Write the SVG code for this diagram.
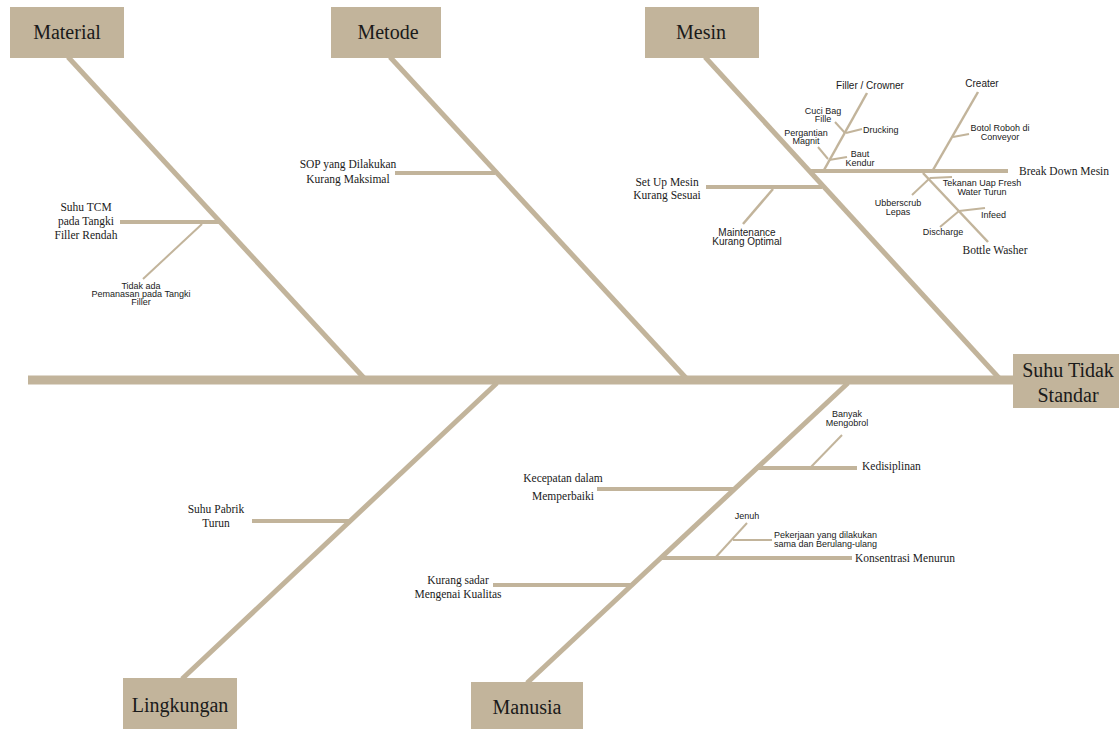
<svg xmlns="http://www.w3.org/2000/svg" width="1119" height="729" viewBox="0 0 1119 729">
<style>
.box{fill:#C2B49B}
.bt{font-family:"Liberation Serif",serif;font-size:20px;fill:#1a1a1a;text-anchor:middle}
.ct{font-family:"Liberation Serif",serif;font-size:11.5px;fill:#1a1a1a}
.st{font-family:"Liberation Sans",sans-serif;font-size:9px;fill:#1a1a1a}
.m{text-anchor:middle}
.e{text-anchor:end}
.bone{stroke:#C2B49B;stroke-width:5;fill:none}
.sub{stroke:#C2B49B;stroke-width:4;fill:none}
.tw{stroke:#C2B49B;stroke-width:2;fill:none}
</style>
<rect width="1119" height="729" fill="#fff"/>
<g id="connectors">
<line class="bone" x1="28" y1="380" x2="1013" y2="380" style="stroke-width:9"/>
<line class="bone" x1="68" y1="57" x2="364" y2="378"/>
<line class="bone" x1="390" y1="57" x2="686" y2="378"/>
<line class="bone" x1="705" y1="57" x2="999" y2="378"/>
<line class="bone" x1="497" y1="383" x2="182" y2="679"/>
<line class="bone" x1="848" y1="383" x2="527" y2="683"/>
<!-- Material -->
<line class="sub" x1="120" y1="222" x2="220" y2="222"/>
<line class="tw" x1="202" y1="224" x2="143" y2="279"/>
<!-- Metode -->
<line class="sub" x1="395" y1="173" x2="495" y2="173"/>
<!-- Mesin -->
<line class="sub" x1="808" y1="171" x2="1008" y2="171"/>
<line class="sub" x1="706" y1="187" x2="822" y2="187"/>
<line class="tw" x1="773" y1="189" x2="743" y2="224" style="stroke-width:2.5"/>
<line class="tw" x1="824" y1="170" x2="867" y2="93" style="stroke-width:2.5"/>
<line class="tw" x1="846" y1="133" x2="862" y2="129"/>
<line class="tw" x1="845" y1="133" x2="835" y2="122"/>
<line class="tw" x1="828" y1="159" x2="818" y2="147"/>
<line class="tw" x1="829" y1="160" x2="847" y2="157"/>
<line class="tw" x1="933" y1="170" x2="978" y2="92" style="stroke-width:2.5"/>
<line class="tw" x1="953" y1="137" x2="969" y2="134"/>
<line class="tw" x1="923" y1="173" x2="988" y2="242" style="stroke-width:2.5"/>
<line class="tw" x1="930" y1="178" x2="952" y2="177"/>
<line class="tw" x1="930" y1="178" x2="912" y2="195"/>
<line class="tw" x1="959" y1="211" x2="985" y2="208"/>
<line class="tw" x1="959" y1="211" x2="940" y2="227"/>
<!-- Lingkungan -->
<line class="sub" x1="252" y1="521" x2="350" y2="521"/>
<!-- Manusia -->
<line class="sub" x1="757" y1="468" x2="857" y2="468"/>
<line class="tw" x1="810" y1="468" x2="842" y2="435"/>
<line class="sub" x1="597" y1="489" x2="735" y2="489"/>
<line class="sub" x1="661" y1="558" x2="852" y2="558"/>
<line class="tw" x1="715" y1="558" x2="747" y2="523"/>
<line class="tw" x1="733" y1="540" x2="772" y2="540"/>
<line class="sub" x1="493" y1="585" x2="631" y2="585"/>
</g>
<g id="head">
<rect class="box" x="1013" y="354" width="106" height="54"/>
<text class="bt" x="1068" y="377">Suhu Tidak</text>
<text class="bt" x="1068" y="402">Standar</text>
</g>
<g id="material">
<rect class="box" x="10" y="7" width="114" height="51"/>
<text class="bt" x="67" y="39">Material</text>
</g>
<g id="metode">
<rect class="box" x="331" y="7" width="110" height="51"/>
<text class="bt" x="388" y="39">Metode</text>
</g>
<g id="mesin">
<rect class="box" x="645" y="7" width="114" height="51"/>
<text class="bt" x="701" y="39">Mesin</text>
</g>
<g id="lingkungan">
<rect class="box" x="123" y="678" width="114" height="51"/>
<text class="bt" x="180" y="712">Lingkungan</text>
</g>
<g id="manusia">
<rect class="box" x="471" y="682" width="112" height="47"/>
<text class="bt" x="527" y="714">Manusia</text>
</g>
<g id="material-causes">
<text class="ct m" x="86" y="211">Suhu TCM</text>
<text class="ct m" x="86" y="225">pada Tangki</text>
<text class="ct m" x="86" y="239">Filler Rendah</text>
<text class="st m" x="141" y="289">Tidak ada</text>
<text class="st m" x="141" y="297">Pemanasan pada Tangki</text>
<text class="st m" x="141" y="305">Filler</text>
</g>
<g id="metode-causes">
<text class="ct m" x="348" y="168">SOP yang Dilakukan</text>
<text class="ct m" x="348" y="183">Kurang Maksimal</text>
</g>
<g id="mesin-causes">
<text class="ct" x="1019" y="175">Break Down Mesin</text>
<text class="ct m" x="667" y="186">Set Up Mesin</text>
<text class="ct m" x="667" y="199">Kurang Sesuai</text>
<text class="st m" x="747" y="236" style="font-size:10px">Maintenance</text>
<text class="st m" x="747" y="245" style="font-size:10px">Kurang Optimal</text>
<text class="st m" x="870" y="89" style="font-size:10px">Filler / Crowner</text>
<text class="st" x="863" y="133">Drucking</text>
<text class="st m" x="823" y="114">Cuci Bag</text>
<text class="st m" x="823" y="122">Fille</text>
<text class="st m" x="806" y="136">Pergantian</text>
<text class="st m" x="806" y="144">Magnit</text>
<text class="st m" x="860" y="157">Baut</text>
<text class="st m" x="860" y="166">Kendur</text>
<text class="st m" x="982" y="87" style="font-size:10px">Creater</text>
<text class="st m" x="1000" y="131">Botol Roboh di</text>
<text class="st m" x="1000" y="140">Conveyor</text>
<text class="st m" x="982" y="186">Tekanan Uap Fresh</text>
<text class="st m" x="982" y="195">Water Turun</text>
<text class="st m" x="898" y="206">Ubberscrub</text>
<text class="st m" x="898" y="215">Lepas</text>
<text class="st" x="981" y="218">Infeed</text>
<text class="st m" x="943" y="235">Discharge</text>
<text class="ct m" x="995" y="254">Bottle Washer</text>
</g>
<g id="lingkungan-causes">
<text class="ct m" x="216" y="513">Suhu Pabrik</text>
<text class="ct m" x="216" y="527">Turun</text>
</g>
<g id="manusia-causes">
<text class="st m" x="847" y="417">Banyak</text>
<text class="st m" x="847" y="426">Mengobrol</text>
<text class="ct" x="862" y="470">Kedisiplinan</text>
<text class="ct m" x="563" y="482">Kecepatan dalam</text>
<text class="ct m" x="563" y="500">Memperbaiki</text>
<text class="st m" x="747" y="519">Jenuh</text>
<text class="st" x="774" y="538">Pekerjaan yang dilakukan</text>
<text class="st" x="774" y="547">sama dan Berulang-ulang</text>
<text class="ct" x="855" y="562">Konsentrasi Menurun</text>
<text class="ct m" x="458" y="584">Kurang sadar</text>
<text class="ct m" x="458" y="598">Mengenai Kualitas</text>
</g>
</svg>
